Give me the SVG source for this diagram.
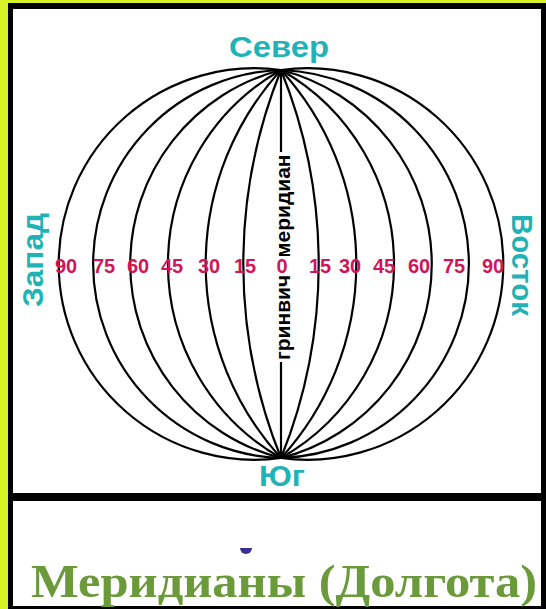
<svg xmlns="http://www.w3.org/2000/svg" width="546" height="609" viewBox="0 0 546 609">
  <style>
    .mer { fill: none; stroke: #000; stroke-width: 2.2; }
    .dir { font-family: "Liberation Sans", Arial, sans-serif; font-weight: bold; fill: #1fb3b8; font-size: 29px; }
    .num { font-family: "Liberation Sans", Arial, sans-serif; font-weight: bold; fill: #d0165a; font-size: 20px; text-anchor: middle; }
    .gm { font-family: "Liberation Sans", Arial, sans-serif; font-weight: bold; font-size: 21px; fill: #000; }
    .title { font-family: "Liberation Serif", "Times New Roman", serif; font-weight: bold; fill: #6a9a3a; font-size: 47px; }
  </style>
  <rect x="0" y="0" width="546" height="609" fill="#d4f226"/>
  <rect x="8" y="3" width="538" height="606" fill="#000"/>
  <rect x="13" y="9" width="528" height="484" fill="#fff"/>
  <rect x="13" y="501" width="528" height="105" fill="#fff"/>

  <g id="meridians">
    <path class="mer" d="M281,70 A195.8,195.8 0 1 0 281,458"/>
    <path class="mer" d="M281,70 A194.1,194.1 0 0 0 281,458"/>
    <path class="mer" d="M281,70 A200.2,200.2 0 0 0 281,458"/>
    <path class="mer" d="M281,70 A223,223 0 0 0 281,458"/>
    <path class="mer" d="M281,70 A287.6,287.6 0 0 0 281,458"/>
    <path class="mer" d="M281,70 A518,518 0 0 0 281,458"/>
    <path class="mer" d="M281,70 A195.8,195.8 0 1 1 281,458"/>
    <path class="mer" d="M281,70 A194.1,194.1 0 0 1 281,458"/>
    <path class="mer" d="M281,70 A200.2,200.2 0 0 1 281,458"/>
    <path class="mer" d="M281,70 A223,223 0 0 1 281,458"/>
    <path class="mer" d="M281,70 A287.6,287.6 0 0 1 281,458"/>
    <path class="mer" d="M281,70 A518,518 0 0 1 281,458"/>
    <line class="mer" x1="281" y1="70" x2="281" y2="152"/>
    <line class="mer" x1="281" y1="362" x2="281" y2="458"/>
  </g>

  <g id="greenwich">
    <rect x="271" y="152" width="22" height="210" fill="#fff"/>
    <text class="gm" transform="translate(283,360) rotate(-90)" dy="7"><tspan x="0">гринвич</tspan><tspan x="88">-</tspan><tspan x="102">меридиан</tspan></text>
  </g>

  <g id="labels">
    <rect x="275" y="256" width="15" height="20" fill="#fff"/>
    <text class="num" x="66" y="273">90</text>
    <text class="num" x="104" y="273">75</text>
    <text class="num" x="138" y="273">60</text>
    <text class="num" x="172" y="273">45</text>
    <text class="num" x="209" y="273">30</text>
    <text class="num" x="245" y="273">15</text>
    <text class="num" x="282" y="273">0</text>
    <text class="num" x="320" y="273">15</text>
    <text class="num" x="350" y="273">30</text>
    <text class="num" x="384" y="273">45</text>
    <text class="num" x="419" y="273">60</text>
    <text class="num" x="454" y="273">75</text>
    <text class="num" x="493" y="273">90</text>
  </g>

  <g id="north"><text class="dir" x="279" y="57" text-anchor="middle" textLength="100" lengthAdjust="spacingAndGlyphs">Север</text></g>
  <g id="south"><text class="dir" x="282" y="486" text-anchor="middle" textLength="46" lengthAdjust="spacingAndGlyphs">Юг</text></g>
  <g id="west"><text class="dir" transform="translate(33,260) rotate(-90)" text-anchor="middle" dy="10" textLength="94" lengthAdjust="spacingAndGlyphs">Запад</text></g>
  <g id="east"><text class="dir" transform="translate(522,265) rotate(90)" text-anchor="middle" dy="10" textLength="102" lengthAdjust="spacingAndGlyphs">Восток</text></g>

  <path d="M240,548 a6,6 0 0 0 12,0 z" fill="#3b2f8f"/>
  <g id="title"><text class="title" x="31" y="597" textLength="506" lengthAdjust="spacingAndGlyphs">Меридианы (Долгота)</text></g>
</svg>
